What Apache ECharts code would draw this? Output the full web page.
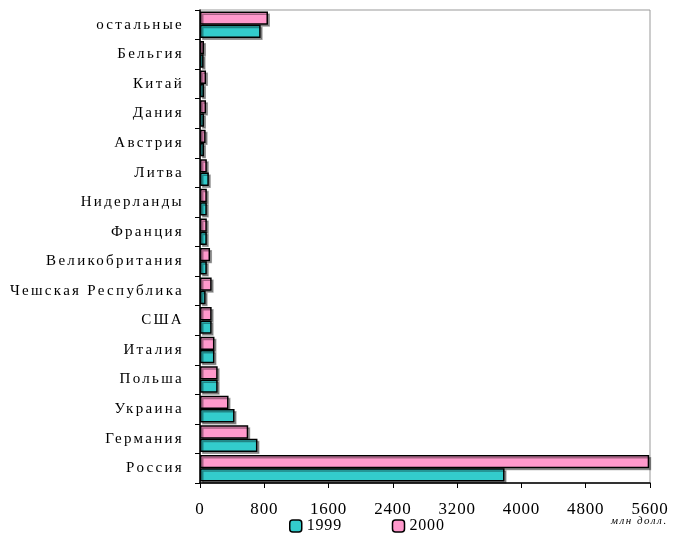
<!DOCTYPE html>
<html><head><meta charset="utf-8">
<script src="https://cdn.jsdelivr.net/npm/echarts@6/dist/echarts.min.js"></script>
<style>html,body{margin:0;padding:0;background:#fff}#c{width:674px;height:533px}</style>
</head><body><div id="c"></div>
<script>
const categories = ['Россия','Германия','Украина','Польша','Италия','США','Чешская Республика','Великобритания','Франция','Нидерланды','Литва','Австрия','Дания','Китай','Бельгия','остальные'];
const values1999 = [3790, 715, 430, 220, 180, 145, 70, 85, 85, 85, 110, 50, 50, 50, 45, 755];
const values2000 = [5590, 600, 355, 220, 180, 145, 145, 125, 85, 85, 85, 70, 75, 75, 50, 846];
const xTicks = [0, 800, 1600, 2400, 3200, 4000, 4800, 5600];
const unitLabel = 'млн долл.';

// letter spacing (reference typography) applied at canvas draw time
(function () {
  const proto = CanvasRenderingContext2D.prototype;
  const orig = proto.fillText;
  proto.fillText = function (text, x, y, maxW) {
    const prev = this.letterSpacing;
    if (categories.includes(text)) this.letterSpacing = '2.3px';
    else if (text === unitLabel) this.letterSpacing = '1.5px';
    else this.letterSpacing = '0.8px';
    const r = maxW === undefined ? orig.call(this, text, x, y) : orig.call(this, text, x, y, maxW);
    this.letterSpacing = prev;
    return r;
  };
})();

const chart = echarts.init(document.getElementById('c'));
const font = 'Liberation Serif';
const itemStyle = (c) => ({color: c, borderColor: '#000', borderWidth: 1.5, shadowColor: 'rgba(0,0,0,0.35)', shadowOffsetX: 2, shadowOffsetY: 2, shadowBlur: 0});
chart.setOption({
  animation: false,
  textStyle: {fontFamily: font},
  grid: {left: 200, right: 24, top: 10, bottom: 50, show: true, borderColor: '#999', borderWidth: 1},
  legend: {
    left: 284, top: 513, itemWidth: 12, itemHeight: 12, itemGap: 53,
    textStyle: {fontFamily: font, fontSize: 16, color: '#000'},
    itemStyle: {borderColor: '#000', borderWidth: 1.5},
    data: ['1999', '2000']
  },
  xAxis: {
    type: 'value', min: 0, max: 5600, interval: 800,
    axisLine: {show: true, lineStyle: {color: '#000', width: 1.5}},
    axisTick: {show: true, inside: false, length: 5, lineStyle: {color: '#000'}},
    splitLine: {show: false},
    axisLabel: {fontFamily: font, fontSize: 17, color: '#000', margin: 18,
      formatter: v => xTicks.includes(v) ? String(v) : ''}
  },
  yAxis: {
    type: 'category', data: categories,
    axisLine: {show: true, lineStyle: {color: '#000', width: 1.5}},
    axisTick: {show: true, inside: false, length: 5, lineStyle: {color: '#000'}},
    axisLabel: {fontFamily: font, fontSize: 15, color: '#000', margin: 16, padding: [4, 0, 0, 0]}
  },
  graphic: [{type: 'text', left: 611, top: 516, style: {text: unitLabel, fontFamily: font, fontStyle: 'italic', fontSize: 11, fill: '#000'}}],
  series: [
    {name: '2000', type: 'bar', data: values2000, barGap: '0%', barCategoryGap: '10%', itemStyle: itemStyle('#FF99CC')},
    {name: '1999', type: 'bar', data: values1999, barGap: '0%', barCategoryGap: '10%', itemStyle: itemStyle('#33CCCC')}
  ]
});
</script></body></html>
